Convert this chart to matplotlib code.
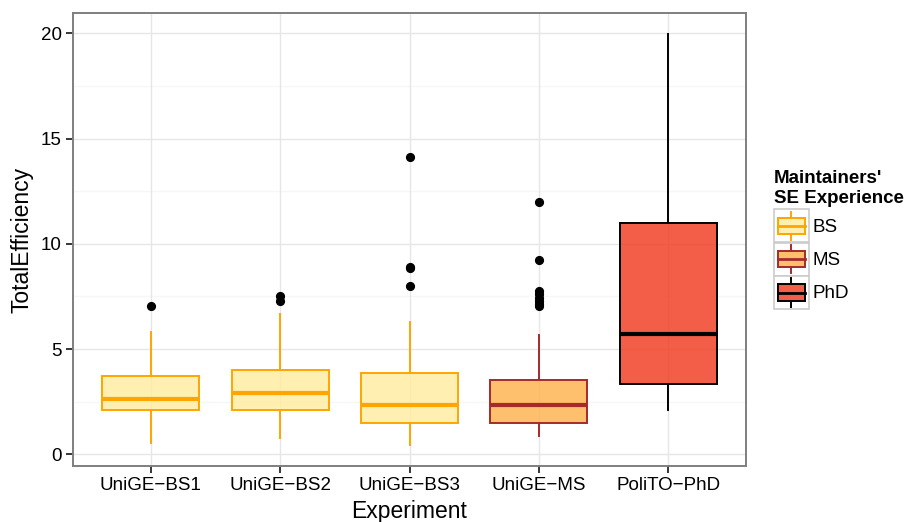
import numpy as np
import matplotlib
matplotlib.use("Agg")
import matplotlib.pyplot as plt
from matplotlib.patches import Patch, Rectangle
from matplotlib.lines import Line2D
from matplotlib.legend_handler import HandlerBase

plt.rcParams['font.family'] = ['Liberation Sans', 'DejaVu Sans']

experiments = ['UniGE\u2212BS1', 'UniGE\u2212BS2', 'UniGE\u2212BS3', 'UniGE\u2212MS', 'PoliTO\u2212PhD']
groups = ['BS', 'BS', 'BS', 'MS', 'PhD']
whislo = [0.55, 0.80, 0.43, 0.87, 2.13]
q1 = [2.10, 2.10, 1.50, 1.50, 3.36]
med = [2.64, 2.91, 2.34, 2.34, 5.72]
q3 = [3.71, 4.00, 3.87, 3.55, 11.01]
whishi = [5.80, 6.65, 6.30, 5.69, 19.98]
fliers = [[7.03],
          [7.28, 7.54],
          [8.0, 8.85, 8.9, 14.1],
          [7.03, 7.15, 7.3, 7.45, 7.6, 7.74, 9.23, 12.0],
          []]

levels = ['BS', 'MS', 'PhD']
fill_colors = {'BS': '#FFEDA0', 'MS': '#FEB24C', 'PhD': '#F03B20'}
edge_colors = {'BS': '#FFA500', 'MS': '#A52A2A', 'PhD': '#000000'}
fill_alpha = 0.82

fig = plt.figure(figsize=(9.09, 5.22), dpi=100)
ax = fig.add_axes([73 / 909, 56 / 522, 673 / 909, 453 / 522])

# grid like theme_bw
ax.set_axisbelow(True)
for yv in np.arange(2.5, 21, 5):
    ax.axhline(yv, color='#f7f7f7', lw=1.0, zorder=0)
ax.grid(True, which='major', color='#e6e6e6', lw=1.0)

stats = []
for i in range(len(experiments)):
    stats.append(dict(med=med[i], q1=q1[i], q3=q3[i], whislo=whislo[i],
                      whishi=whishi[i], fliers=fliers[i], label=experiments[i]))

positions = np.arange(1, len(experiments) + 1)
for i, st in enumerate(stats):
    g = groups[i]
    ec = edge_colors[g]
    ax.bxp([st], positions=[positions[i]], widths=0.75, patch_artist=True,
           showcaps=False,
           boxprops=dict(facecolor=matplotlib.colors.to_rgba(fill_colors[g], fill_alpha),
                         edgecolor=ec, linewidth=1.4),
           medianprops=dict(color=ec, linewidth=3.0, solid_capstyle='butt'),
           whiskerprops=dict(color=ec, linewidth=1.4),
           flierprops=dict(marker='o', markerfacecolor='black', markeredgecolor='black',
                           markersize=5.6, linestyle='none'),
           manage_ticks=False, zorder=3)

ax.set_xlim(0.4, 5.6)
ax.set_ylim(-0.55, 20.96)
ax.set_xticks(positions)
ax.set_xticklabels(experiments)
ax.set_yticks([0, 5, 10, 15, 20])
ax.tick_params(axis='both', labelsize=13.5, colors='black', length=5, width=1.1,
               pad=3)
for s in ax.spines.values():
    s.set_color('#7f7f7f')
    s.set_linewidth(1.4)
ax.set_xlabel('Experiment', fontsize=16.5, labelpad=4)
ax.set_ylabel('TotalEfficiency', fontsize=16.5, labelpad=5)


class BoxKeyHandler(HandlerBase):
    def create_artists(self, legend, orig_handle, xdescent, ydescent,
                       width, height, fontsize, trans):
        x0, y0 = -xdescent, -ydescent
        fc = orig_handle.get_facecolor()
        ec = orig_handle.get_edgecolor()
        bg = Rectangle((x0, y0), width, height, facecolor='white',
                       edgecolor='#cccccc', lw=1.2, transform=trans)
        box = Rectangle((x0 + 0.12 * width, y0 + 0.25 * height), 0.76 * width, 0.5 * height,
                        facecolor=fc, edgecolor=ec, lw=1.4, transform=trans)
        xc = x0 + width / 2
        wl = Line2D([xc, xc], [y0 + 0.07 * height, y0 + 0.25 * height], color=ec, lw=1.4,
                    transform=trans)
        wh = Line2D([xc, xc], [y0 + 0.75 * height, y0 + 0.93 * height], color=ec, lw=1.4,
                    transform=trans)
        md = Line2D([x0 + 0.12 * width, x0 + 0.88 * width], [y0 + 0.5 * height] * 2, color=ec,
                    lw=2.0, transform=trans)
        return [bg, box, wl, wh, md]


handles = [Patch(facecolor=matplotlib.colors.to_rgba(fill_colors[l], fill_alpha),
                 edgecolor=edge_colors[l]) for l in levels]
leg = fig.legend(handles, levels, loc='upper left', bbox_to_anchor=(774 / 909, 1 - 170 / 522),
                 frameon=False, fontsize=13.5, title="Maintainers'\nSE Experience",
                 title_fontproperties={'weight': 'bold', 'size': 13.5},
                 handler_map={Patch: BoxKeyHandler()}, handlelength=1.85, handleheight=2.33,
                 labelspacing=0.02, handletextpad=0.22, borderpad=0, borderaxespad=0,
                 alignment='left')
# small gap between the legend title and the keys
leg._legend_box.sep = 2

fig.savefig('out.png', dpi=100)
